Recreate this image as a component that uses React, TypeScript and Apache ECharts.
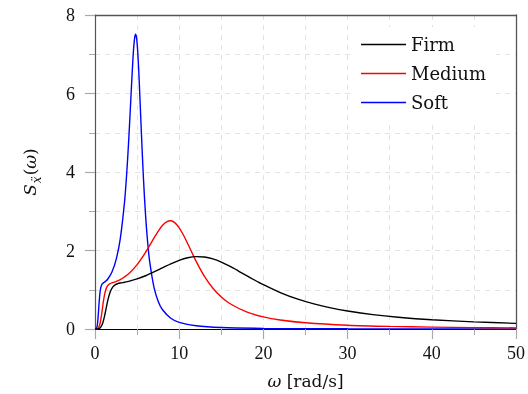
import React, { useEffect, useRef } from "react";
import * as echarts from "echarts";

const firmW = [0, 0.3, 0.6, 0.9, 1.2, 1.5, 1.8, 2.1, 2.4, 2.7, 3, 3.5, 4, 5, 6, 7, 8, 9, 10, 11, 12, 13, 14, 15, 16, 17, 18, 20, 22, 24, 26, 28, 30, 33, 36, 40, 45, 50];
const firmS = [0, 0.0016, 0.0275, 0.1407, 0.3946, 0.708, 0.941, 1.066, 1.126, 1.154, 1.171, 1.191, 1.214, 1.275, 1.357, 1.454, 1.558, 1.661, 1.75, 1.814, 1.844, 1.834, 1.785, 1.704, 1.6, 1.483, 1.361, 1.128, 0.929, 0.767, 0.64, 0.539, 0.459, 0.367, 0.301, 0.237, 0.182, 0.144];

const mediumW = [0, 0.2, 0.4, 0.6, 0.8, 1.0, 1.2, 1.4, 1.6, 1.8, 2, 2.5, 3, 4, 5, 6, 7, 7.5, 8, 8.5, 9, 9.5, 10, 10.5, 11, 12, 13, 14, 15, 16, 18, 20, 22, 25, 30, 35, 40, 45, 50];
const mediumS = [0, 0.0016, 0.0275, 0.1407, 0.3946, 0.708, 0.941, 1.067, 1.127, 1.156, 1.174, 1.209, 1.257, 1.408, 1.64, 1.951, 2.315, 2.49, 2.637, 2.732, 2.757, 2.704, 2.577, 2.394, 2.178, 1.73, 1.341, 1.039, 0.815, 0.65, 0.435, 0.309, 0.23, 0.159, 0.097, 0.066, 0.048, 0.036, 0.029];

const softW = [0, 0.1, 0.2, 0.3, 0.4, 0.5, 0.6, 0.7, 0.8, 0.9, 1.0, 1.25, 1.5, 2, 2.5, 3, 3.5, 3.75, 4, 4.25, 4.5, 4.65, 4.8, 4.95, 5.1, 5.25, 5.5, 5.75, 6, 6.25, 6.5, 7, 7.5, 8, 9, 10, 12, 15, 20, 30, 40, 50];
const softS = [0, 0.0016, 0.0275, 0.1407, 0.3947, 0.708, 0.9415, 1.067, 1.128, 1.158, 1.176, 1.214, 1.267, 1.448, 1.763, 2.298, 3.221, 3.911, 4.793, 5.836, 6.858, 7.309, 7.509, 7.395, 6.972, 6.323, 5.043, 3.855, 2.914, 2.216, 1.708, 1.067, 0.71, 0.497, 0.275, 0.17, 0.082, 0.037, 0.016, 0.0055, 0.0028, 0.0017];

const seriesNames = ["Firm", "Medium", "Soft"];
const seriesColors = ["#000000", "#ff0000", "#0000ff"];
const xTicks = [0, 10, 20, 30, 40, 50];
const yTicks = [0, 2, 4, 6, 8];

const FONT = "'Liberation Serif', 'DejaVu Serif', serif";
const WIDE = "'DejaVu Serif', 'Liberation Serif', serif";

const pairs = (w: number[], s: number[]) => w.map((x, i) => [x, s[i]]);

export default function App() {
  const ref = useRef<HTMLDivElement>(null);
  useEffect(() => {
    if (!ref.current) return;
    const chart = echarts.init(ref.current, undefined, { renderer: "svg" });
    const datasets = [pairs(firmW, firmS), pairs(mediumW, mediumS), pairs(softW, softS)];
    const axisCommon = {
      type: "value" as const,
      axisLine: { show: true, lineStyle: { color: "#555", width: 1.2 } },
      axisTick: { show: true, inside: false, length: 10, lineStyle: { color: "#aaa", width: 1.2 } },
      minorTick: { show: true, splitNumber: 2, length: 6, lineStyle: { color: "#aaa", width: 1 } },
      splitLine: { show: true, lineStyle: { color: "#e3e3e3", type: [5, 5] as any, width: 1 } },
      minorSplitLine: { show: true, lineStyle: { color: "#e3e3e3", type: [5, 5] as any, width: 1 } },
      axisLabel: { color: "#111", fontFamily: FONT, fontSize: 18 },
    };
    const frameAxis = {
      type: "value" as const,
      axisLine: { show: true, onZero: false, lineStyle: { color: "#555", width: 1.3 } },
      axisTick: { show: false },
      minorTick: { show: false },
      splitLine: { show: false },
      axisLabel: { show: false },
    };
    chart.setOption({
      animation: false,
      grid: { left: 95, right: 9, top: 15, bottom: 64 },
      legend: {
        orient: "vertical",
        left: 351,
        top: 27,
        padding: [8, 10, 8, 10],
        backgroundColor: "#ffffff",
        itemWidth: 45,
        itemHeight: 1.5,
        itemGap: 10,
        icon: "rect",
        data: seriesNames,
        textStyle: { fontFamily: WIDE, fontSize: 18, color: "#111", lineHeight: 19 },
      },
      xAxis: [
        {
          ...axisCommon,
          min: xTicks[0],
          max: xTicks[xTicks.length - 1],
          interval: xTicks[1] - xTicks[0],
          axisLine: { show: true, onZero: false, lineStyle: { color: "#000", width: 1.2 } },
          axisLabel: { ...axisCommon.axisLabel, margin: 15 },
          name: "{i|ω} [rad/s]",
          nameLocation: "middle",
          nameGap: 43,
          nameTextStyle: {
            fontFamily: WIDE,
            fontSize: 17,
            color: "#111",
            rich: { i: { fontFamily: WIDE, fontSize: 17, fontStyle: "italic", color: "#111" } },
          },
        },
        { ...frameAxis, position: "top", min: xTicks[0], max: xTicks[xTicks.length - 1] },
      ],
      yAxis: [
        {
          ...axisCommon,
          min: yTicks[0],
          max: yTicks[yTicks.length - 1],
          interval: yTicks[1] - yTicks[0],
          axisLabel: { ...axisCommon.axisLabel, margin: 20 },
          name: "{i|S}{s|ẍ}{n|(}{i|ω}{n|)}",
          nameLocation: "middle",
          nameGap: 57,
          nameRotate: 90,
          nameTextStyle: {
            fontFamily: WIDE,
            fontSize: 17,
            color: "#111",
            rich: {
              i: { fontFamily: WIDE, fontSize: 17, fontStyle: "italic", color: "#111", verticalAlign: "bottom" },
              n: { fontFamily: WIDE, fontSize: 17, color: "#111", verticalAlign: "bottom" },
              s: { fontFamily: WIDE, fontSize: 12, fontStyle: "italic", color: "#111", verticalAlign: "bottom", padding: [0, 1, -5, 1] },
            },
          },
        },
        { ...frameAxis, position: "right", min: yTicks[0], max: yTicks[yTicks.length - 1] },
      ],
      series: seriesNames.map((n, i) => ({
        name: n,
        type: "line",
        data: datasets[i],
        symbol: "none",
        smooth: 0.3,
        lineStyle: { color: seriesColors[i], width: 1.4 },
        itemStyle: { color: seriesColors[i] },
        z: 3 - i,
      })),
    });
    return () => chart.dispose();
  }, []);
  return <div ref={ref} style={{ position: "fixed", left: 0, top: 0, width: 528, height: 394 }} />;
}
